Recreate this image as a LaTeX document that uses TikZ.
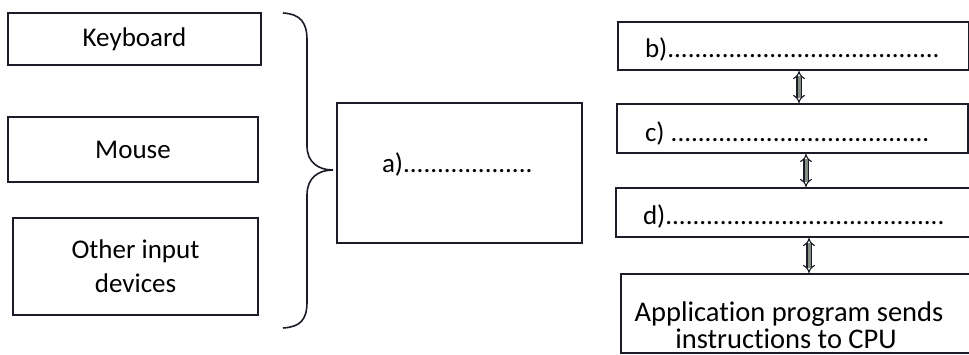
\documentclass[tikz,border=0pt]{standalone}
\usepackage{fontspec}
\setmainfont{Carlito}[Ligatures=NoCommon]
\usetikzlibrary{arrows.meta}
\definecolor{ink}{RGB}{28,28,40}
\definecolor{arrowfill}{RGB}{130,142,130}
\begin{document}
\begin{tikzpicture}[x=1pt,y=-1pt,
  box/.style={draw=ink,line width=1.7pt,inner sep=0pt,outer sep=0pt,rectangle},
  lbl/.style={inner sep=0pt,outer sep=0pt,font=\fontsize{27}{34}\selectfont,text=black},
  applbl/.style={inner sep=0pt,outer sep=0pt,font=\fontsize{28.5}{28}\selectfont,text=black},
  dblarrow/.style={draw=ink,double=arrowfill,double distance=3pt,line width=1.1pt,
    {Implies[length=6pt]}-{Implies[length=6pt]}},
  bracepath/.style={draw=ink,line width=1.6pt}]
\clip (0,0) rectangle (969,355);
\useasboundingbox (0,0) rectangle (969,355);
\fill[white] (0,0) rectangle (969,355);
% left boxes
\node[box,minimum width=253pt,minimum height=52pt,lbl] (kb) at (134.5,39) {Keyboard};
\node[box,minimum width=250pt,minimum height=65pt,lbl] (ms) at (133,149.5) {Mouse};
\node[box,minimum width=245pt,minimum height=97pt,lbl,align=center] (oth) at (135.5,266.5) {Other input\\devices};
% brace
\coordinate (brtop) at (283,13);
\coordinate (brtip) at (333,170);
\coordinate (brbot) at (283,328);
\draw[bracepath] (brtop) .. controls (300,14) and (307,22) .. (307,40) -- (307,146)
  .. controls (307,162) and (318,170) .. (brtip)
  .. controls (318,170) and (307,178) .. (307,195) -- (307,302)
  .. controls (307,320) and (300,327) .. (brbot);
% a box
\node[box,minimum width=245pt,minimum height=140pt] (abox) at (459.5,173) {};
\node[lbl,anchor=base west] (atext) at (382,173) {a)...................};
% right boxes
\node[box,minimum width=351pt,minimum height=48pt] (bbox) at (793.5,46) {};
\node[lbl,anchor=base west] (btext) at (645,58) {b)........................................};
\node[box,minimum width=351pt,minimum height=49pt] (cbox) at (792.5,128.5) {};
\node[lbl,anchor=base west] (ctext) at (645,142) {c) ......................................};
\node[box,minimum width=354pt,minimum height=49pt] (dbox) at (793,212.5) {};
\node[lbl,anchor=base west] (dtext) at (643,225) {d).........................................};
\node[box,minimum width=360pt,minimum height=79pt] (appbox) at (801,313.5) {};
\node[applbl,anchor=base] (app1) at (789,321) {Application program sends};
\node[applbl,anchor=base] (app2) at (786,348) {instructions to CPU};
% arrows
\coordinate (x1) at (799,0);
\coordinate (x2) at (806,0);
\coordinate (x3) at (809,0);
\draw[dblarrow] ([yshift=-1pt]bbox.south -| x1) -- ([yshift=1pt]cbox.north -| x1);
\draw[dblarrow] ([yshift=-1pt]cbox.south -| x2) -- ([yshift=1pt]dbox.north -| x2);
\draw[dblarrow] ([yshift=-1pt]dbox.south -| x3) -- ([yshift=1pt]appbox.north -| x3);
\end{tikzpicture}
\end{document}
